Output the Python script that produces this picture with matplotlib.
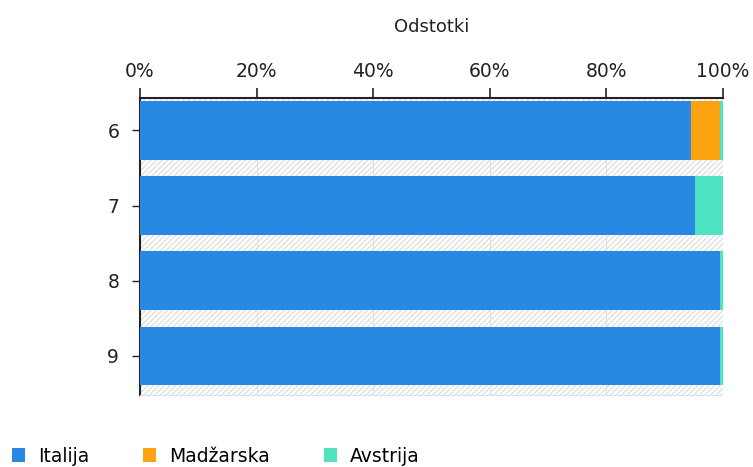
import matplotlib.pyplot as plt
from matplotlib.patches import Rectangle
from matplotlib.ticker import FuncFormatter

# podatki
razredi = ['6', '7', '8', '9']
italija = [94.5, 95.2, 99.5, 99.5]
madzarska = [5.0, 0.0, 0.0, 0.0]
avstrija = [0.5, 4.8, 0.5, 0.5]

barve = ['#2789e2', '#fca311', '#4fe3c1']

fig = plt.figure(figsize=(7.53, 4.67), dpi=100)
ax = fig.add_axes([0.186, 0.154, 0.774, 0.636])

y = list(range(len(razredi)))
left = [0.0] * len(razredi)
for vals, col, ime in zip([italija, madzarska, avstrija], barve,
                          ['Italija', 'Madžarska', 'Avstrija']):
    ax.barh(y, vals, left=left, height=0.78, color=col, label=ime, zorder=3)
    left = [a + b for a, b in zip(left, vals)]

# srafirano ozadje
ax.add_patch(Rectangle((0, 0), 1, 1, transform=ax.transAxes, facecolor='white',
                       edgecolor='#e0e0e0', hatch='//////', lw=0, zorder=0))

ax.set_xlim(0, 100)
ax.set_ylim(3.52, -0.43)
ax.set_yticks(y)
ax.set_yticklabels(razredi)
ax.set_xticks([0, 20, 40, 60, 80, 100])
ax.xaxis.set_major_formatter(FuncFormatter(lambda v, p: f'{v:.0f}%'))
ax.xaxis.tick_top()
ax.xaxis.set_label_position('top')
ax.set_xlabel('Odstotki', fontsize=13, labelpad=22, color='#222222')
ax.tick_params(axis='x', length=7, width=1.2, colors='#222222', labelsize=13.5, pad=5)
ax.tick_params(axis='y', length=6, width=1, colors='#222222', labelsize=13.5, pad=9)
ax.grid(axis='x', color='#e0e0e0', lw=0.8, zorder=1)

ax.spines['right'].set_visible(False)
ax.spines['top'].set_linewidth(1.5)
ax.spines['top'].set_color('#222222')
ax.spines['left'].set_linewidth(1.5)
ax.spines['left'].set_color('#222222')
ax.spines['bottom'].set_color('#d8d8d8')
ax.spines['bottom'].set_linestyle((0, (3, 2)))

fig.legend(loc='lower left', bbox_to_anchor=(-0.006, -0.033), ncol=3, frameon=False,
           fontsize=13.5, handlelength=0.7, handleheight=0.7, columnspacing=2.85,
           handletextpad=0.7)

fig.savefig('out.png', dpi=100)
